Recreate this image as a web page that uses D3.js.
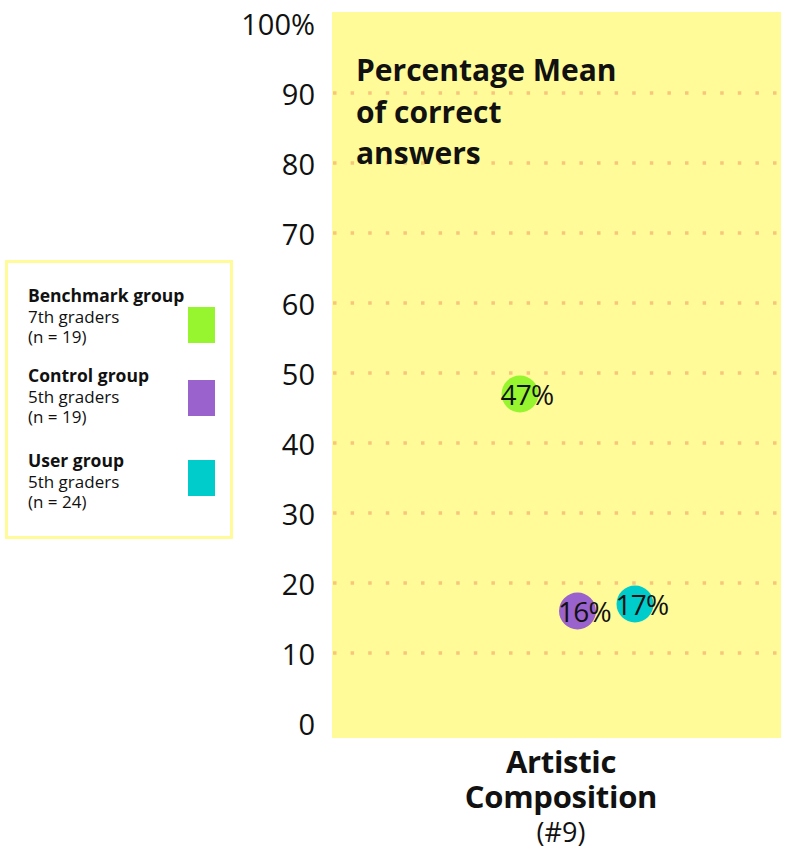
<!DOCTYPE html>
<html>
<head>
<meta charset="utf-8">
<script src="https://cdn.jsdelivr.net/npm/d3@7"></script>
<style>
  html, body { margin: 0; padding: 0; background: #ffffff; }
  svg { display: block; font-family: "Open Sans", "Noto Sans", sans-serif; }
</style>
</head>
<body>
<svg id="chart" width="785" height="857"></svg>
<script>
// Mean percentage of correct answers, item #9
const category = ["Artistic", "Composition", "(#9)"];
const groups = ["Benchmark group", "Control group", "User group"];
const groupGrades = ["7th graders", "5th graders", "5th graders"];
const groupSizes = ["(n = 19)", "(n = 19)", "(n = 24)"];
const values = [47, 16, 17];
const colors = ["#97f530", "#9a62cc", "#00cccc"];
const yTicks = [0, 10, 20, 30, 40, 50, 60, 70, 80, 90, 100];
const gridTicks = [10, 20, 30, 40, 50, 60, 70, 80, 90];
const titleLines = ["Percentage Mean", "of correct", "answers"];

const svg = d3.select("#chart");

const plot = { left: 332, right: 781, top: 12, bottom: 738 };

const y = d3.scaleLinear().domain([0, 100]).range([723, 23]);
const x = d3.scalePoint().domain(groups).range([520, 635]);

// plot background
svg.append("rect")
  .attr("x", plot.left).attr("y", plot.top)
  .attr("width", plot.right - plot.left)
  .attr("height", plot.bottom - plot.top)
  .attr("fill", "#fffb98");

// dotted gridlines
svg.append("g").selectAll("line")
  .data(gridTicks)
  .join("line")
  .attr("x1", plot.left + 1).attr("x2", plot.right)
  .attr("y1", d => y(d)).attr("y2", d => y(d))
  .attr("stroke", "#f8c57c")
  .attr("stroke-width", 3.5)
  .attr("stroke-dasharray", "3.5 14.1");

// y axis labels
const yAxis = d3.axisLeft(y)
  .tickValues(yTicks)
  .tickSize(0)
  .tickPadding(0)
  .tickFormat(d => d === 100 ? "100%" : String(d));

const yg = svg.append("g")
  .attr("transform", "translate(315,0)")
  .call(yAxis);
yg.select(".domain").remove();
yg.selectAll("text")
  .attr("font-size", 29)
  .attr("fill", "#111")
  .attr("font-family", "'Open Sans', sans-serif")
  .attr("dy", "0.38em");

// chart title inside the plot
svg.append("text")
  .attr("font-size", 30).attr("font-weight", "bold").attr("fill", "#111")
  .selectAll("tspan")
  .data(titleLines)
  .join("tspan")
  .attr("x", 356)
  .attr("y", (d, i) => 81 + i * 41.5)
  .text(d => d);

// points
const pts = svg.append("g").selectAll("g")
  .data(values)
  .join("g")
  .attr("transform", (d, i) => `translate(${x(groups[i])},${y(d)})`);

pts.append("circle")
  .attr("r", 18.5)
  .attr("fill", (d, i) => colors[i]);

pts.append("text")
  .attr("x", 7).attr("dy", "0.38em")
  .attr("text-anchor", "middle")
  .attr("font-size", 28)
  .attr("letter-spacing", -0.8)
  .attr("fill", "#111")
  .text(d => d + "%");

// category label below the plot
const catText = svg.append("text")
  .attr("text-anchor", "middle")
  .attr("fill", "#111");
catText.selectAll("tspan")
  .data(category)
  .join("tspan")
  .attr("x", 561)
  .attr("y", (d, i) => [773, 808, 842][i])
  .attr("font-size", (d, i) => i < 2 ? 31 : 27)
  .attr("font-weight", (d, i) => i < 2 ? "bold" : "normal")
  .attr("letter-spacing", (d, i) => i < 2 ? -0.3 : 0)
  .text(d => d);

// legend
const legend = svg.append("g");
legend.append("rect")
  .attr("x", 6.5).attr("y", 261.5)
  .attr("width", 225).attr("height", 276)
  .attr("fill", "#fff")
  .attr("stroke", "#fffb98")
  .attr("stroke-width", 3);

const entryY = [302, 382, 467];
const swatchY = [307, 380, 460];
const items = legend.selectAll("g.item")
  .data(groups)
  .join("g")
  .attr("class", "item");

items.append("text")
  .attr("x", 28).attr("y", (d, i) => entryY[i])
  .attr("font-size", 17.5).attr("font-weight", "bold").attr("fill", "#111")
  .text(d => d);
items.append("text")
  .attr("x", 28).attr("y", (d, i) => entryY[i] + 20.5)
  .attr("font-size", 17).attr("fill", "#111")
  .text((d, i) => groupGrades[i]);
items.append("text")
  .attr("x", 28).attr("y", (d, i) => entryY[i] + 41)
  .attr("font-size", 17).attr("fill", "#111")
  .text((d, i) => groupSizes[i]);
items.append("rect")
  .attr("x", 188).attr("y", (d, i) => swatchY[i])
  .attr("width", 27).attr("height", 36)
  .attr("fill", (d, i) => colors[i]);
</script>
</body>
</html>
